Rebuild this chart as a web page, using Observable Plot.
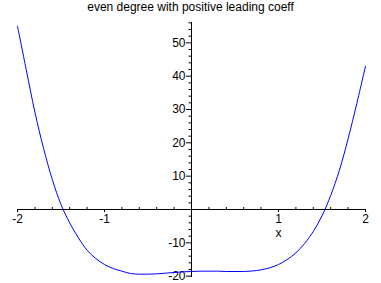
<!DOCTYPE html>
<html>
<head>
<meta charset="utf-8">
<script src="https://cdn.jsdelivr.net/npm/d3@7"></script>
<script src="https://cdn.jsdelivr.net/npm/@observablehq/plot@0.6"></script>
<style>
  body { margin: 0; background: white; }
  #wrap { position: relative; width: 381px; height: 283px; }
  #title { position: absolute; top: 0; left: 0; width: 381px; text-align: center;
           font: 12px "Liberation Sans", Arial, sans-serif; line-height: 14px; color: black; }
</style>
</head>
<body>
<div id="wrap"><div id="title"></div></div>
<script>
const title = "even degree with positive leading coeff";
const xs = [-2, -1.9, -1.8, -1.7, -1.6, -1.5, -1.4, -1.3, -1.2, -1.1, -1.0, -0.9, -0.8, -0.7, -0.6, -0.5, -0.4, -0.3, -0.2, -0.1, 0, 0.1, 0.2, 0.3, 0.4, 0.5, 0.6, 0.7, 0.8, 0.9, 1.0, 1.1, 1.2, 1.3, 1.4, 1.5, 1.6, 1.7, 1.8, 1.9, 2];
const ys = [55, 42, 29.2, 18.3, 9, 1.5, -4, -8.5, -12.2, -14.7, -16.5, -17.7, -18.5, -19.2, -19.4, -19.4, -19.3, -19.1, -18.9, -18.7, -18.6, -18.5, -18.5, -18.5, -18.6, -18.6, -18.6, -18.45, -18.1, -17.5, -16.5, -15, -13, -10.2, -6.6, -1.9, 4.2, 11.8, 21.2, 31.8, 43];
const xMajor = [-2, -1, 1, 2];
const xMinor = [-1.8, -1.6, -1.4, -1.2, -0.8, -0.6, -0.4, -0.2, 0.2, 0.4, 0.6, 0.8, 1.2, 1.4, 1.6, 1.8];
const yMajor = [-20, -10, 10, 20, 30, 40, 50];
const yMinor = [-18, -16, -14, -12, -8, -6, -4, -2, 2, 4, 6, 8, 12, 14, 16, 18, 22, 24, 26, 28, 32, 34, 36, 38, 42, 44, 46, 48, 52, 54, 56];
const xLabel = "x";

document.getElementById("title").textContent = title;

const curve = xs.map((x, i) => ({x, y: ys[i]}));
const W = 381, H = 283, mL = 17, mR = 16, mT = 22, mB = 6;
const xDom = [-2, 2], yDom = [-20.4, 56.1];
const pxX = (W - mL - mR) / (xDom[1] - xDom[0]); // px per x unit
const pxY = (H - mT - mB) / (yDom[1] - yDom[0]); // px per y unit

const plot = Plot.plot({
  width: W, height: H,
  marginLeft: mL, marginRight: mR, marginTop: mT, marginBottom: mB,
  x: {domain: xDom, axis: null},
  y: {domain: yDom, axis: null},
  style: {fontSize: "12px", fontFamily: "'Liberation Sans', Arial, sans-serif", background: "transparent", color: "black"},
  marks: [
    Plot.ruleY([0], {stroke: "black", strokeWidth: 1}),
    Plot.ruleX([0], {stroke: "black", strokeWidth: 1}),
    Plot.ruleX(xMinor, {x: d => d, y1: 0, y2: 2 / pxY, stroke: "black"}),
    Plot.ruleX(xMajor, {x: d => d, y1: 0, y2: -3 / pxY, stroke: "black"}),
    Plot.ruleY(yMinor, {y: d => d, x1: 0, x2: -2.5 / pxX, stroke: "black"}),
    Plot.ruleY(yMajor, {y: d => d, x1: 0, x2: -5 / pxX, stroke: "black"}),
    Plot.text(xMajor, {x: d => d, y: 0, text: d => String(d), dy: 10, lineAnchor: "middle", fill: "black"}),
    Plot.text(yMajor, {x: 0, y: d => d, text: d => String(d), dx: -6, textAnchor: "end", lineAnchor: "middle", fill: "black"}),
    Plot.text([xLabel], {x: 1, y: 0, text: d => d, dy: 24, lineAnchor: "middle", fill: "black"}),
    Plot.line(curve, {x: "x", y: "y", stroke: "#0000ff", strokeWidth: 1, curve: "catmull-rom"})
  ]
});
plot.style.position = "absolute";
plot.style.top = "0";
plot.style.left = "0";
document.getElementById("wrap").appendChild(plot);
</script>
</body>
</html>
